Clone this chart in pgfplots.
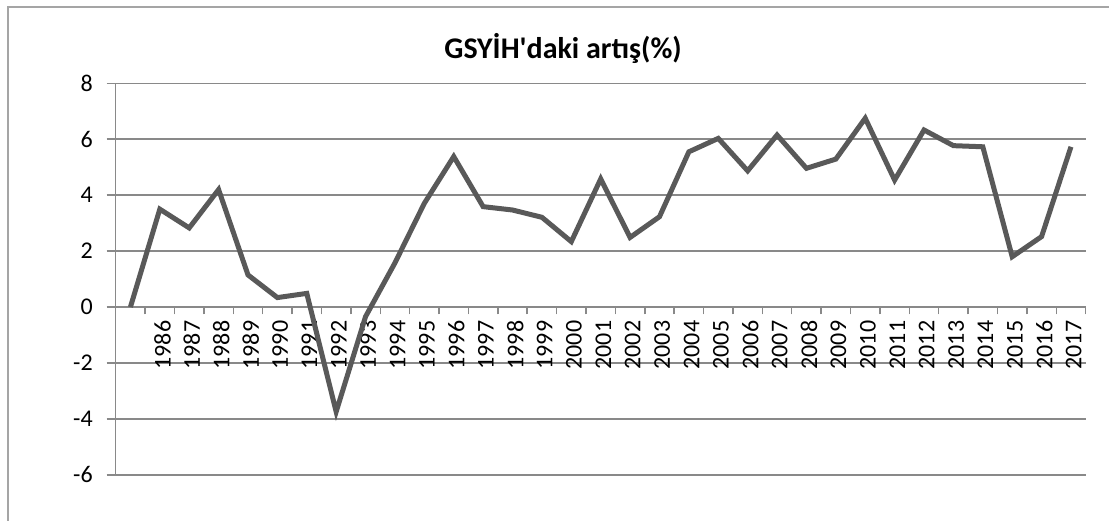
\documentclass[border=0pt]{standalone}
\usepackage{pgfplots}
\pgfplotsset{compat=1.18}
\usepackage{pgfplotstable}
\usepackage{fontspec}
\setmainfont{Carlito}
\definecolor{linec}{RGB}{89,89,89}
\definecolor{gridc}{RGB}{137,137,137}
\definecolor{framec}{RGB}{165,165,165}
\pgfplotstableread{
x y
0 0
1 3.5
2 2.83
3 4.2
4 1.15
5 0.34
6 0.49
7 -3.74
8 -0.34
9 1.58
10 3.71
11 5.38
12 3.59
13 3.47
14 3.21
15 2.34
16 4.58
17 2.49
18 3.23
19 5.55
20 6.03
21 4.87
22 6.15
23 4.96
24 5.29
25 6.75
26 4.54
27 6.33
28 5.77
29 5.73
30 1.80
31 2.52
32 5.73
}\gdp
\begin{document}
\begin{tikzpicture}
\useasboundingbox (-86.8pt,-34.5pt) rectangle (745pt,356.25pt);
\draw[framec, line width=1.1pt] (-80.8pt,-40pt) -- (-80.8pt,351pt) -- (750pt,351pt);
\begin{axis}[
  at={(0,0)}, anchor=south west,
  scale only axis, width=727.5pt, height=293.8pt,
  xmin=-0.5, xmax=32.5, ymin=-6, ymax=8,
  axis x line=middle, axis y line=left,
  x axis line style={-, gridc, line width=1.1pt},
  y axis line style={-, gridc, line width=1.1pt},
  hide obscured x ticks=false, hide obscured y ticks=false,
  xtick={0,...,32},
  xticklabels={,1986,1987,1988,1989,1990,1991,1992,1993,1994,1995,1996,1997,1998,1999,2000,2001,2002,2003,2004,2005,2006,2007,2008,2009,2010,2011,2012,2013,2014,2015,2016,2017},
  minor xtick={-0.5,0.5,...,32.5},
  ytick={-6,-4,...,8},
  ymajorgrids, major grid style={gridc, line width=1.1pt},
  tick align=outside,
  major x tick style={draw=none},
  minor x tick style={gridc, line width=1.1pt},
  minor tick length=5.5pt,
  major tick length=6.75pt,
  y tick style={gridc, line width=1.1pt},
  tick label style={font=\fontsize{18}{20}\selectfont},
  /pgf/number format/assume math mode=true,
  xticklabel style={rotate=90, anchor=east, yshift=-2pt},
  yticklabel style={xshift=-7pt},
  clip=false,
]
\addplot[linec, line width=3.75pt, mark=none] table[x=x,y=y] {\gdp};
\end{axis}
\node[font=\bfseries\fontsize{22.5}{26}\selectfont] at (335.5pt,320.25pt) {GSYİH\textquotesingle daki artış(\%)};
\end{tikzpicture}
\end{document}
